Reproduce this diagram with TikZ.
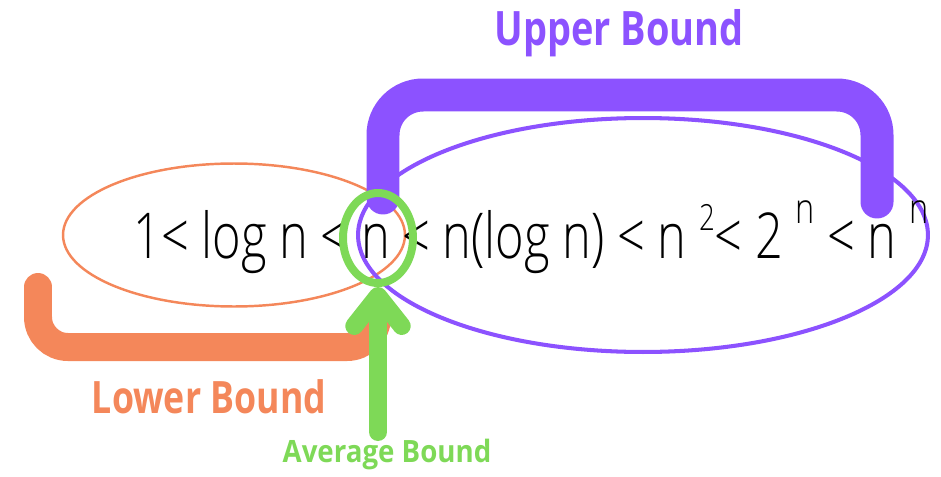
\documentclass[tikz,border=0pt]{standalone}
\usepackage{fontspec}
\setmainfont{Open Sans}
\newfontfamily\formfont{Open Sans Light}[FakeStretch=0.77]
\newfontfamily\labelfont{Open Sans}[FakeStretch=0.8]
\newfontfamily\avgfont{Open Sans}[FakeStretch=0.9]
\usetikzlibrary{arrows.meta, positioning, shapes.geometric}
\definecolor{cpurple}{HTML}{8C52FF}
\definecolor{corange}{HTML}{F4875A}
\definecolor{cgreen}{HTML}{7ED957}
\newcommand{\supsq}[1]{\raisebox{0.44em}{\fontsize{20.5}{21}\selectfont #1}}
\newcommand{\supn}[1]{\raisebox{0.55em}{\fontsize{24}{25}\selectfont #1}}
\tikzset{
  every picture/.style={x=0.02cm, y=-0.02cm},
  set/.style={ellipse, draw=#1, inner sep=0pt},
  brace/.style={draw=#1, line cap=round, rounded corners=0.8cm},
  label/.style={font=\labelfont\bfseries\fontsize{#1}{#1}\selectfont, inner sep=0pt},
  formula/.style={font=\formfont\fontsize{36}{40}\selectfont, inner sep=0pt},
}

\begin{document}
\begin{tikzpicture}
  \useasboundingbox (0,0) rectangle (941,477);
  % the two sets
  \node[set=corange, line width=1.4pt, minimum width=6.84cm, minimum height=2.86cm] (lowset) at (234,235) {};
  \node[set=cpurple, line width=2.3pt, minimum width=11.4cm, minimum height=4.68cm] (upset) at (643,235) {};
  % growth order
  \node[formula, anchor=base west] (chain) at (133,258)
    {1< log n < n < n(log n) < n \supsq{2}< 2 \supn{n} < n \supn{n}};
  % brackets
  \draw[brace=cpurple, line width=0.66cm] (383,198) -- (383,95) -- (877,95) -- (877,202);
  \draw[brace=corange, line width=0.56cm, rounded corners=0.6cm] (38,287) -- (38,347) -- (377,347) -- (377,322);
  % average
  \node[set=cgreen, line width=0.16cm, minimum width=1.4cm, minimum height=1.8cm] (avgring) at (378,238) {};
  \coordinate (avgtail) at (378,432);
  \draw[cgreen, line width=0.36cm, line cap=round, -{Straight Barb[length=0.6cm, width=0.95cm, round]}] (avgtail) -- (avgring.south);
  % labels
  \node[label=27, text=cpurple] (uplabel) at (619,33) {Upper Bound};
  \node[label=25.4, text=corange] (lowlabel) at (209,397) {Lower Bound};
  \node[label=17.5, font=\avgfont\bfseries\fontsize{17.5}{17.5}\selectfont, text=cgreen] (avglabel) at (387,455) {Average Bound};
\end{tikzpicture}
\end{document}
